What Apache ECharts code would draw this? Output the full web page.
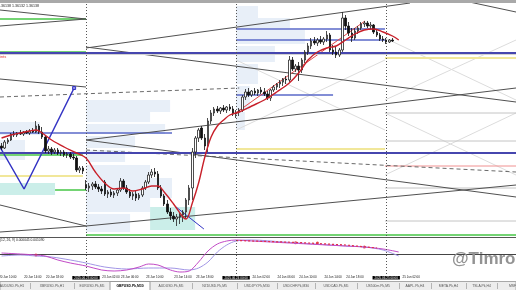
<!DOCTYPE html>
<html><head><meta charset="utf-8">
<script src="https://cdn.jsdelivr.net/npm/echarts@6/dist/echarts.min.js"></script>
<style>html,body{margin:0;padding:0;background:#fff;overflow:hidden}#c{width:516px;height:290px}</style>
</head><body><div id="c"></div>
<script>
// ---------- DATA ----------
const SLOT_COUNT = 165;
const candleOpen = [1.3507,1.3505,1.3511,1.3513,1.3519,1.3518,1.3520,1.3519,1.3521,1.3520,1.3522,1.3521,1.3527,1.3521,1.3516,1.3502,1.3504,1.3501,1.3503,1.3500,1.3501,1.3498,1.3499,1.3496,1.3495,1.3483,1.3485,1.3468,1.3465,1.3467,1.3469,1.3466,1.3464,1.3471,1.3459,1.3461,1.3458,1.3460,1.3463,1.3472,1.3465,1.3461,1.3457,1.3459,1.3455,1.3458,1.3465,1.3471,1.3478,1.3481,1.3479,1.3465,1.3457,1.3449,1.3441,1.3437,1.3434,1.3436,1.3438,1.3441,1.3453,1.3465,1.3501,1.3515,1.3525,1.3515,1.3507,1.3532,1.3540,1.3544,1.3542,1.3545,1.3543,1.3546,1.3544,1.3539,1.3541,1.3543,1.3556,1.3561,1.3558,1.3562,1.3560,1.3563,1.3561,1.3559,1.3555,1.3563,1.3566,1.3569,1.3571,1.3574,1.3573,1.3593,1.3584,1.3587,1.3583,1.3593,1.3601,1.3607,1.3612,1.3610,1.3613,1.3611,1.3614,1.3618,1.3603,1.3601,1.3598,1.3603,1.3635,1.3627,1.3620,1.3615,1.3622,1.3625,1.3629,1.3630,1.3627,1.3628,1.3621,1.3618,1.3614,1.3613,1.3611,1.3613];
const candleClose = [1.3505,1.3511,1.3513,1.3519,1.3518,1.3520,1.3519,1.3521,1.3520,1.3522,1.3521,1.3527,1.3521,1.3516,1.3502,1.3504,1.3501,1.3503,1.3500,1.3501,1.3498,1.3499,1.3496,1.3495,1.3483,1.3485,1.3482,1.3465,1.3467,1.3469,1.3466,1.3464,1.3462,1.3459,1.3461,1.3458,1.3460,1.3463,1.3472,1.3465,1.3461,1.3457,1.3459,1.3455,1.3458,1.3465,1.3471,1.3478,1.3481,1.3479,1.3465,1.3457,1.3449,1.3441,1.3437,1.3434,1.3436,1.3438,1.3441,1.3453,1.3465,1.3501,1.3515,1.3523,1.3515,1.3507,1.3532,1.3540,1.3544,1.3542,1.3545,1.3543,1.3546,1.3544,1.3539,1.3541,1.3543,1.3556,1.3561,1.3558,1.3562,1.3560,1.3563,1.3561,1.3559,1.3555,1.3563,1.3566,1.3569,1.3571,1.3574,1.3573,1.3593,1.3584,1.3587,1.3583,1.3593,1.3601,1.3607,1.3612,1.3610,1.3613,1.3611,1.3614,1.3618,1.3603,1.3601,1.3598,1.3603,1.3635,1.3627,1.3620,1.3615,1.3622,1.3625,1.3629,1.3630,1.3627,1.3628,1.3621,1.3618,1.3614,1.3613,1.3611,1.3613,1.3612];
const candleLow = [1.3503,1.3504,1.3509,1.3512,1.3516,1.3516,1.3518,1.3517,1.3519,1.3518,1.3520,1.3520,1.3519,1.3514,1.3500,1.3499,1.3498,1.3499,1.3498,1.3497,1.3496,1.3495,1.3494,1.3493,1.3481,1.3480,1.3479,1.3463,1.3461,1.3463,1.3464,1.3461,1.3459,1.3457,1.3455,1.3456,1.3455,1.3457,1.3461,1.3463,1.3459,1.3455,1.3453,1.3452,1.3453,1.3456,1.3463,1.3469,1.3475,1.3476,1.3463,1.3455,1.3447,1.3439,1.3433,1.3431,1.3427,1.3429,1.3431,1.3435,1.3448,1.3453,1.3495,1.3511,1.3513,1.3503,1.3501,1.3529,1.3537,1.3540,1.3539,1.3541,1.3540,1.3542,1.3537,1.3535,1.3537,1.3541,1.3553,1.3556,1.3556,1.3558,1.3557,1.3559,1.3557,1.3553,1.3552,1.3561,1.3563,1.3565,1.3567,1.3569,1.3571,1.3582,1.3581,1.3572,1.3580,1.3590,1.3598,1.3604,1.3608,1.3607,1.3609,1.3608,1.3611,1.3601,1.3598,1.3595,1.3596,1.3601,1.3623,1.3617,1.3611,1.3613,1.3619,1.3623,1.3626,1.3625,1.3624,1.3619,1.3616,1.3612,1.3611,1.3609,1.3610,1.3611];
const candleHigh = [1.3510,1.3513,1.3515,1.3520,1.3522,1.3521,1.3523,1.3522,1.3523,1.3524,1.3525,1.3532,1.3529,1.3526,1.3517,1.3507,1.3506,1.3505,1.3505,1.3503,1.3503,1.3501,1.3501,1.3499,1.3497,1.3487,1.3487,1.3473,1.3470,1.3471,1.3472,1.3469,1.3467,1.3473,1.3463,1.3464,1.3462,1.3465,1.3475,1.3474,1.3468,1.3464,1.3461,1.3462,1.3460,1.3467,1.3473,1.3481,1.3484,1.3485,1.3482,1.3468,1.3459,1.3453,1.3445,1.3441,1.3439,1.3441,1.3443,1.3455,1.3468,1.3505,1.3517,1.3525,1.3527,1.3519,1.3535,1.3543,1.3546,1.3547,1.3546,1.3548,1.3547,1.3549,1.3547,1.3543,1.3545,1.3558,1.3564,1.3565,1.3563,1.3565,1.3564,1.3566,1.3565,1.3562,1.3564,1.3568,1.3570,1.3573,1.3575,1.3577,1.3597,1.3596,1.3589,1.3591,1.3595,1.3603,1.3610,1.3615,1.3616,1.3615,1.3617,1.3616,1.3622,1.3620,1.3608,1.3606,1.3605,1.3641,1.3638,1.3631,1.3625,1.3625,1.3627,1.3631,1.3632,1.3632,1.3631,1.3629,1.3623,1.3620,1.3617,1.3615,1.3614,1.3615];

const maIdx = [0,3,6,9,11,13,16,20,24,27,30,33,36,39,42,45,48,50,52,55,58,59,61,63,65,67,69,71,73,76,80,84,88,92,95,98,101,104,107,110,113,116,119,122,125,127];
const maVal = [1.3515,1.3518,1.3520,1.3522,1.3523,1.3520,1.3513,1.3506,1.3500,1.3495,1.3481,1.3470,1.3464,1.3465,1.3462,1.3464,1.3467,1.3467,1.3461,1.3449,1.3436,1.3434,1.3450,1.3470,1.3496,1.3516,1.3527,1.3533,1.3538,1.3541,1.3547,1.3553,1.3561,1.3570,1.3580,1.3593,1.3601,1.3605,1.3607,1.3613,1.3619,1.3623,1.3624,1.3621,1.3617,1.3613];

const oscMainIdx = [0,6,11,14,18,22,27,32,36,40,44,47,50,54,57,60,63,66,69,72,75,80,86,92,98,104,110,116,122,127];
const oscMainVal = [0.0001,0.0000,-0.0001,-0.0002,-0.0006,-0.0009,-0.0012,-0.0016,-0.0017,-0.0016,-0.0013,-0.0010,-0.0011,-0.0016,-0.0018,-0.0017,-0.0008,0.0003,0.0010,0.0013,0.0014,0.0013,0.0012,0.0011,0.0010,0.0009,0.0008,0.0007,0.0005,0.0002];
const oscSignalIdx = [0,6,11,16,22,27,33,40,47,54,60,63,66,69,72,75,80,90,100,110,116,122,127];
const oscSignalVal = [-0.0002,-0.0001,-0.0002,-0.0003,-0.0006,-0.0009,-0.0013,-0.0015,-0.0014,-0.0014,-0.0016,-0.0014,-0.0008,0.0002,0.0009,0.0013,0.0014,0.0012,0.0010,0.0008,0.0007,0.0004,-0.0002];
const oscDashIdx = [75,95,110,120];
const oscDashVal = [0.00135,0.00115,0.0009,0.0006];
const oscDotIdx = [11,94,101,116];
const oscDotVal = [-0.0001,0.00112,0.0011,0.0007];

const timeTickIdx = [2,10,17,27,35,41,49,58,65,75,83,91,98,106,113,123,131];
const timeTickText = ['20 Jun 10:00','20 Jun 14:00','20 Jun 18:00','2025.06.23 00:00','23 Jun 02:00','23 Jun 06:00','23 Jun 10:00','23 Jun 14:00','23 Jun 18:00','2025.06.24 00:00','24 Jun 02:00','24 Jun 06:00','24 Jun 10:00','24 Jun 14:00','24 Jun 18:00','2025.06.25 00:00','25 Jun 02:00'];
const daySeparatorIdx = [27,75,123];

const blueLevelsFull = [1.3603,1.3588,1.3490,1.3440];
const dashedLevelsFull = [1.3619,1.3531];
const bandLevelsFull = [1.3615];
// [fromIdx, toIdx, price]
const blueSegments = [[75,122.6,1.3624],[75,122.6,1.3613],[75,106,1.3558],[-0.5,54.5,1.3520]];
const greenSegments = [[-0.5,27,1.3634],[-0.5,27,1.3601],[-0.5,26,1.3498],[17.1,27,1.3463],[27,164.5,1.3418]];
const yellowSegments = [[75,122.6,1.3504],[122.6,164.5,1.3595],[-0.5,26,1.3477]];
const graySegments = [[122.6,164.5,1.3540],[122.6,164.5,1.3512],[122.6,164.5,1.3465],[122.6,164.5,1.3432]];
const pinkSegments = [[122.6,164.5,1.3487]];
// [fromIdx, fromPrice, toIdx, toPrice]
const darkTrends = [[-0.5,1.3643,27,1.3634],[-0.5,1.3627,27,1.3634],[27,1.3605,130.6,1.3650],[146.6,1.3653,164.5,1.3641],[-0.5,1.3574,27,1.3566],[27,1.3606,164.5,1.3551],[27,1.3513,164.5,1.3456],[27,1.3513,164.5,1.3565],[27,1.3427,164.5,1.3468],[-0.5,1.3448,27,1.3427],[-0.5,1.3421,27,1.3427]];
const dashedTrends = [[-0.5,1.3556,76,1.3565],[27,1.3503,164.5,1.3481]];
const faintTrends = [[122.6,1.3615,164.5,1.3553],[122.6,1.3553,164.5,1.3613],[122.6,1.3540,164.5,1.3478],[122.6,1.3478,164.5,1.3540],[75,1.3593,122.6,1.3523],[75,1.3523,122.6,1.3593]];
const redChannelIdx = [75.3,116.2];
const redChannelVal = [1.3541,1.3632];
const blueZigzagIdx = [-0.5,7.2,23.2];
const blueZigzagVal = [1.3506,1.3464,1.3565];
const blueShortIdx = [55.8,64.7];
const blueShortVal = [1.3446,1.3424];
// [fromIdx, toIdx, topPrice, bottomPrice]
const profileAreas = [[27,53.9,1.3553,1.3541],[27,47.5,1.3541,1.3531],[27,52.3,1.3529,1.3519],[27,42.7,1.3517,1.3505],[27,39.5,1.3503,1.3491],[27,47.5,1.3488,1.3475],[27,54.5,1.3475,1.3455],[27,47.5,1.3455,1.3441],[27,41.1,1.3439,1.3421],[75,82,1.3647,1.3635],[75,92.2,1.3635,1.3625],[75,97,1.3623,1.3609],[75,87.4,1.3607,1.3591],[75,82,1.3589,1.3569],[75,79.4,1.3567,1.3543],[75,77.8,1.3541,1.3523],[-0.5,12.3,1.3531,1.3518],[-0.5,7.5,1.3513,1.3493]];
const tealAreas = [[-0.5,17.1,1.3470,1.3458],[47.5,61.9,1.3446,1.3423]];

const tabNames = ['AUDUSD.Pk,H1','XBRUSD.Pk,H1','EURUSD.Pk,M5','GBPUSD.Pk,M30','AUDUSD.Pk,M5','NZDUSD.Pk,M5','USDJPY.Pk,M30','USDCHF.Pk,M30','USDCAD.Pk,M5','US500m.Pk,M5','AAPL.Pk,H4','META.Pk,H4','TSLA.Pk,H4','MSFT.Pk,H4'];
const activeTab = 3;

// ---------- BUILD ----------
const FONT = 'Liberation Sans';
const cats = Array.from({length: SLOT_COUNT}, (_, i) => String(i));
const tickMap = {};
timeTickIdx.forEach((k, j) => { tickMap[k] = timeTickText[j]; });
const zip = (a, b) => a.map((v, j) => [v, b[j]]);
const candles = candleOpen.map((o, i) => [o, candleClose[i], candleLow[i], candleHigh[i]]);

const series = [];
series.push({
  type: 'line', xAxisIndex: 1, yAxisIndex: 0, data: [], z: 1, silent: true,
  markArea: { silent: true, label: {show: false},
    data: profileAreas.map(a => [{coord: [a[0], a[2]], itemStyle: {color: '#e8eff8'}}, {coord: [a[1], a[3]]}])
      .concat(tealAreas.map(a => [{coord: [a[0], a[2]], itemStyle: {color: '#cbeee9'}}, {coord: [a[1], a[3]]}]))
  }
});
series.push({
  type: 'line', xAxisIndex: 1, yAxisIndex: 0, data: [], z: 2, silent: true,
  markLine: { silent: true, symbol: 'none', label: {show: false}, animation: false,
    data: []
      .concat(bandLevelsFull.map(v => ({yAxis: v, lineStyle: {color: '#d2d2d2', width: 3, type: 'solid'}})))
      .concat(dashedLevelsFull.map(v => ({yAxis: v, lineStyle: {color: '#777', width: 1, type: [4, 3]}})))
      .concat(blueLevelsFull.map(v => ({yAxis: v, lineStyle: {color: '#4646ae', width: 2, type: 'solid'}})))
      .concat(daySeparatorIdx.map(v => ({xAxis: v, lineStyle: {color: '#555', width: 1, type: [1, 2]}})))
  }
});
function addSegments(list, style, z) {
  list.forEach(s => series.push({type: 'line', xAxisIndex: 1, yAxisIndex: 0, silent: true, symbol: 'none', z: z,
    data: [[s[0], s[2]], [s[1], s[2]]], lineStyle: style}));
}
function addTrends(list, style, z) {
  list.forEach(s => series.push({type: 'line', xAxisIndex: 1, yAxisIndex: 0, silent: true, symbol: 'none', z: z,
    data: [[s[0], s[1]], [s[2], s[3]]], lineStyle: style}));
}
addTrends(faintTrends, {color: '#dcdcdc', width: 1}, 2);
addSegments(graySegments, {color: '#c4c4c4', width: 1}, 2);
addSegments(pinkSegments, {color: '#f09090', width: 1}, 2);
addSegments(yellowSegments, {color: '#f1e79a', width: 2}, 2);
addSegments(greenSegments, {color: '#74d474', width: 2}, 3);
addSegments(blueSegments, {color: '#5a68c8', width: 1.5}, 3);
addTrends(dashedTrends, {color: '#6a6a6a', width: 1, type: [4, 3]}, 3);
addTrends(darkTrends, {color: '#505050', width: 1}, 3);
series.push({type: 'line', xAxisIndex: 1, yAxisIndex: 0, silent: true, z: 4, symbol: 'none',
  data: zip(blueZigzagIdx, blueZigzagVal).map((p, j, arr) => j === arr.length - 1 ? {value: p, symbol: 'rect', symbolSize: 3} : p),
  showSymbol: true, lineStyle: {color: '#3434c4', width: 1.5}, itemStyle: {color: '#8c8ce0', borderColor: '#3434c4'}});
series.push({type: 'line', xAxisIndex: 1, yAxisIndex: 0, silent: true, z: 4, symbol: 'none',
  data: zip(blueShortIdx, blueShortVal), lineStyle: {color: '#3434c4', width: 1}});
series.push({type: 'line', xAxisIndex: 1, yAxisIndex: 0, silent: true, z: 4, symbol: 'none',
  data: zip(redChannelIdx, redChannelVal), lineStyle: {color: '#e04848', width: 1}});
series.push({type: 'candlestick', xAxisIndex: 0, yAxisIndex: 0, z: 5, silent: true, barWidth: 2,
  data: candles,
  itemStyle: {color: '#ffffff', color0: '#111111', borderColor: '#222222', borderColor0: '#111111', borderWidth: 0.8}});
series.push({type: 'line', xAxisIndex: 1, yAxisIndex: 0, z: 6, silent: true, symbol: 'none', smooth: 0.35,
  data: zip(maIdx, maVal), lineStyle: {color: '#c8202a', width: 1.4}});
series.push({type: 'line', xAxisIndex: 3, yAxisIndex: 1, silent: true, symbol: 'none', smooth: 0.3,
  data: zip(oscSignalIdx, oscSignalVal), lineStyle: {color: '#a296e6', width: 1},
  markLine: {silent: true, symbol: 'none', label: {show: false},
    data: daySeparatorIdx.map(v => ({xAxis: v, lineStyle: {color: '#555', width: 1, type: [1, 2]}}))}});
series.push({type: 'line', xAxisIndex: 3, yAxisIndex: 1, silent: true, symbol: 'none', smooth: 0.3,
  data: zip(oscMainIdx, oscMainVal), lineStyle: {color: '#c24ac6', width: 1}});
series.push({type: 'line', xAxisIndex: 3, yAxisIndex: 1, silent: true, symbol: 'none',
  data: zip(oscDashIdx, oscDashVal), lineStyle: {color: '#e0304a', width: 1.2, type: [2, 2]}});
series.push({type: 'scatter', xAxisIndex: 3, yAxisIndex: 1, silent: true, symbolSize: 3,
  data: zip(oscDotIdx, oscDotVal), itemStyle: {color: '#e01818'}});

const tabEdges = [-6,30,74,110,150,192,237,277,315,357,399,431,466,497,540];
const graphics = [
  {type: 'rect', shape: {x: 0, y: 0, width: 516, height: 3}, style: {fill: '#a9a9a9'}, z: 100},
  {type: 'text', x: -2, y: 3.5, style: {text: '1.36138 1.36132 1.36138', fontSize: 3.6, fontFamily: FONT, fill: '#222'}, z: 100},
  {type: 'text', x: 0, y: 54.5, style: {text: 'ints', fontSize: 4, fontFamily: FONT, fill: '#e03030'}, z: 100},
  {type: 'text', x: 0, y: 238.5, style: {text: '(12, 26, 9) 0.000045 0.001090', fontSize: 3.3, fontFamily: FONT, fill: '#222'}, z: 100},
  {type: 'text', x: 452, y: 251, style: {text: '@Timron', fontSize: 17, fontWeight: 'bold', fontFamily: FONT, fill: '#939393'}, z: 100},
  {type: 'rect', shape: {x: 0, y: 281.5, width: 516, height: 9}, style: {fill: '#ededed', stroke: '#a8a8a8', lineWidth: 1}, z: 100}
];
tabNames.forEach((name, j) => {
  const x0 = tabEdges[j], x1 = tabEdges[j + 1];
  if (j === activeTab) {
    graphics.push({type: 'rect', shape: {x: x0, y: 281.5, width: x1 - x0, height: 9}, style: {fill: '#ffffff', stroke: '#9a9a9a', lineWidth: 1}, z: 101});
  } else if (j < tabNames.length - 1 && j + 1 !== activeTab) {
    graphics.push({type: 'line', shape: {x1: x1 + 0.5, y1: 283, x2: x1 + 0.5, y2: 289}, style: {stroke: '#b4b4b4', lineWidth: 1}, z: 101});
  }
  graphics.push({type: 'text', x: (x0 + x1) / 2, y: 286.3, style: {text: name, fontSize: 3.4, fontFamily: FONT,
    fill: j === activeTab ? '#000' : '#555', fontWeight: j === activeTab ? 'bold' : 'normal', align: 'center', verticalAlign: 'middle'}, z: 102});
});

const option = {
  animation: false,
  backgroundColor: '#ffffff',
  textStyle: {fontFamily: FONT},
  grid: [
    {left: 0, right: 0, top: 3, height: 233, show: false, outerBoundsMode: 'none', containLabel: false},
    {left: 0, right: 0, top: 237, height: 37, show: false, outerBoundsMode: 'none', containLabel: false}
  ],
  xAxis: [
    {type: 'category', gridIndex: 0, data: cats, boundaryGap: true, show: false},
    {type: 'value', gridIndex: 0, min: -0.5, max: SLOT_COUNT - 0.5, show: false},
    {type: 'category', gridIndex: 1, data: cats, boundaryGap: true, position: 'bottom',
      axisLine: {show: true, lineStyle: {color: '#444', width: 1}}, axisTick: {show: false}, splitLine: {show: false},
      axisLabel: {show: true, interval: (i) => tickMap[i] !== undefined, margin: 2, fontSize: 3, color: '#111', fontFamily: FONT,
        formatter: (v) => { const t = tickMap[+v]; if (!t) return ''; return t.indexOf('2025') === 0 ? '{day|' + t + '}' : t; },
        rich: {day: {backgroundColor: '#000', color: '#fff', padding: [0.5, 2, 0, 2], fontSize: 3, fontFamily: FONT}}}},
    {type: 'value', gridIndex: 1, min: -0.5, max: SLOT_COUNT - 0.5, position: 'top',
      axisLine: {show: true, onZero: false, lineStyle: {color: '#555', width: 1}}, axisTick: {show: false}, axisLabel: {show: false}, splitLine: {show: false}}
  ],
  yAxis: [
    {type: 'value', gridIndex: 0, min: 1.3417, max: 1.3650, show: false},
    {type: 'value', gridIndex: 1, min: -0.0020, max: 0.0017, show: false}
  ],
  series: series,
  graphic: graphics
};
const chart = echarts.init(document.getElementById('c'), null, {renderer: 'canvas', width: 516, height: 290});
chart.setOption(option);
</script></body></html>
